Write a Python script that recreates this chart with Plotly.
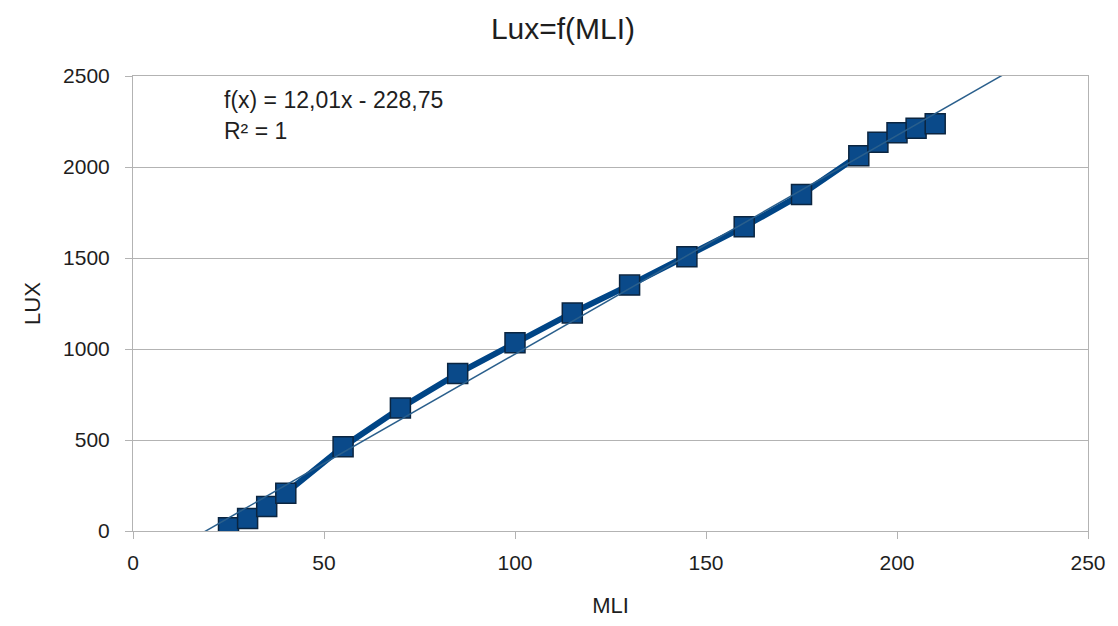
import plotly.graph_objects as go

mli = [25, 30, 35, 40, 55, 70, 85, 100, 115, 130, 145, 160, 175, 190, 195, 200, 205, 210]
lux = [18, 68, 135, 208, 463, 676, 865, 1034, 1198, 1351, 1507, 1672, 1849, 2062, 2136, 2188, 2213, 2238]

slope = 12.01
intercept = -228.75
trend_x = [0, 250]
trend_y = [slope * v + intercept for v in trend_x]

x_ticks = [0, 50, 100, 150, 200, 250]
y_ticks = [0, 500, 1000, 1500, 2000, 2500]

font_family = "Liberation Sans, Arial, sans-serif"
txt = "#1e1e1e"

fig = go.Figure()
fig.add_trace(go.Scatter(
    x=mli, y=lux, mode="lines+markers",
    line=dict(color="#004586", width=6),
    marker=dict(symbol="square", size=20, color="#0a4a8a",
                line=dict(color="#0b2540", width=1.5)),
    showlegend=False,
))
fig.add_trace(go.Scatter(
    x=trend_x, y=trend_y, mode="lines",
    line=dict(color="#2a5f8c", width=1.5),
    showlegend=False,
))

fig.update_layout(
    width=1110, height=618,
    margin=dict(l=125, r=24, t=68, b=93),
    paper_bgcolor="white", plot_bgcolor="white",
    font=dict(family=font_family, size=21, color=txt),
    title=dict(text="Lux=f(MLI)", x=0.5, xanchor="center", y=0.967, yanchor="middle",
               font=dict(size=30, color=txt)),
    xaxis=dict(
        range=[0, 250], tickvals=x_ticks, ticks="outside", ticklen=7, tickcolor="#b3b3b3",
        showgrid=False, showline=True, linecolor="#b3b3b3", linewidth=1, mirror=True,
        zeroline=False, tickfont=dict(size=21), ticklabelstandoff=6,
        title=dict(text="MLI", font=dict(size=22), standoff=24),
    ),
    yaxis=dict(
        range=[0, 2500], tickvals=y_ticks, ticks="outside", ticklen=7, tickcolor="#b3b3b3",
        showgrid=True, gridcolor="#b3b3b3", gridwidth=1,
        showline=True, linecolor="#b3b3b3", linewidth=1, mirror=True,
        zeroline=False, tickfont=dict(size=21), ticklabelstandoff=11,
        title=dict(text="LUX", font=dict(size=22), standoff=16),
    ),
    annotations=[
        dict(text="f(x) = 12,01x - 228,75", xref="paper", yref="paper",
             x=0.0929, y=0.947, xanchor="left", yanchor="middle",
             showarrow=False, font=dict(size=23, color=txt)),
        dict(text="R² = 1", xref="paper", yref="paper",
             x=0.0929, y=0.879, xanchor="left", yanchor="middle",
             showarrow=False, font=dict(size=23, color=txt)),
    ],
)

fig.write_html("out.html")
